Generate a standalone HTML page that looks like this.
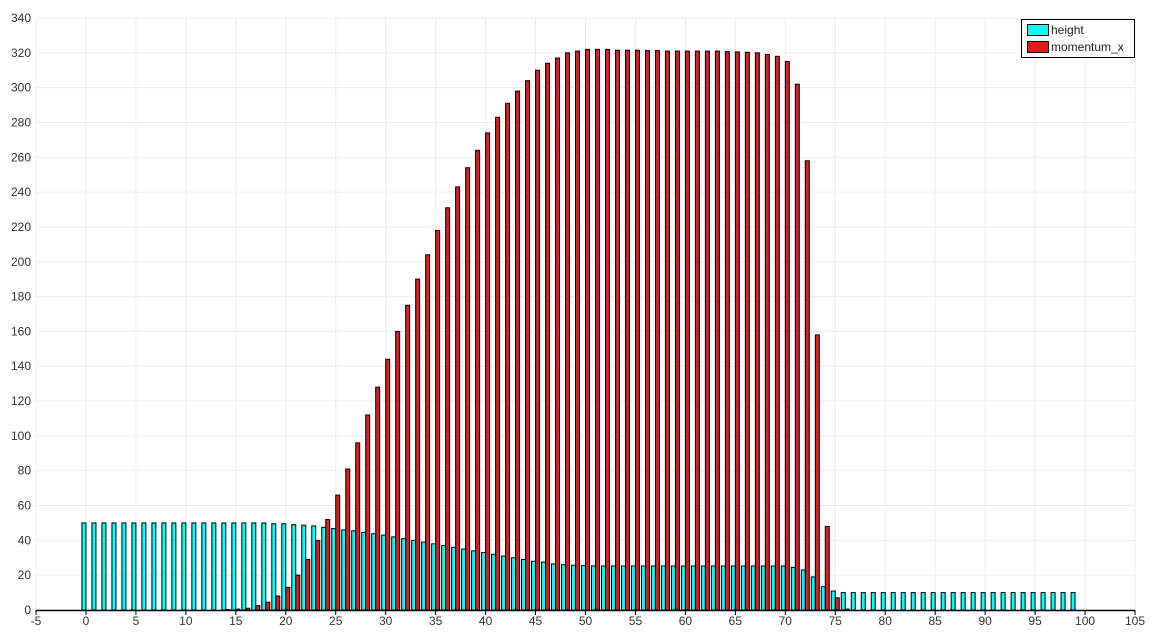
<!DOCTYPE html>
<html><head><meta charset="utf-8"><style>
body{margin:0;background:#fff;}
svg{display:block;font-family:"Liberation Sans",sans-serif;}
</style></head><body>
<svg id="chart" width="1155" height="637">
<g id="grid"></g>
<g id="bars"></g>
<g id="axes"></g>
<g>
<rect x="1021.5" y="19.5" width="113" height="38" fill="#fff" stroke="#000"/>
<rect x="1027.5" y="24.5" width="21" height="11" fill="#00ffff" stroke="#000"/>
<text x="1051" y="34" font-size="12" fill="#222">height</text>
<rect x="1027.5" y="41.5" width="21" height="11" fill="#e41a1c" stroke="#000"/>
<text x="1051" y="51" font-size="12" fill="#222">momentum_x</text>
</g>
</svg>
<script>
const heightVals=[50,50,50,50,50,50,50,50,50,50,50,50,50,50,50,50,50,50,50,49.5,49.5,49,48.7,48.3,47.5,46.8,46,45.5,44.5,43.8,43,42,41,40,39,38,37,36,35,34,33,32,31,30,29,28,27.5,26.5,26,25.7,25.5,25.3,25.3,25.3,25.3,25.3,25.3,25.3,25.3,25.3,25.3,25.3,25.3,25.3,25.3,25.3,25.3,25.3,25.3,25.3,25.3,24.5,23,19,13.4,10.9,10,10,10,10,10,10,10,10,10,10,10,10,10,10,10,10,10,10,10,10,10,10,10,10];
const momentumVals=[0,0,0,0,0,0,0,0,0,0,0,0,0,0,0.3,0.5,1,2.5,4.5,8,13,20,29,40,52,66,81,96,112,128,144,160,175,190,204,218,231,243,254,264,274,283,291,298,304,310,314,317,320,321,322,322,322,321.5,321.5,321.5,321.3,321.3,321,321,321,321,321,321,320.7,320.5,320.3,320,319,318,315,302,258,158,48,7,0.5,0,0,0,0,0,0,0,0,0,0,0,0,0,0,0,0,0,0,0,0,0,0,0,0];
const xTicks=[-5,0,5,10,15,20,25,30,35,40,45,50,55,60,65,70,75,80,85,90,95,100,105];
const yTicks=[0,20,40,60,80,100,120,140,160,180,200,220,240,260,280,300,320,340];
const NS="http://www.w3.org/2000/svg";
const X=v=>36+(v+5)*(1099/110);
const Y=v=>610-v*(592/340);
function mk(tag,attrs,parent){const e=document.createElementNS(NS,tag);for(const k in attrs)e.setAttribute(k,attrs[k]);parent.appendChild(e);return e;}
const grid=document.getElementById('grid'),bars=document.getElementById('bars'),axes=document.getElementById('axes');
xTicks.forEach(t=>{
  const l=mk('line',{x1:X(t),x2:X(t),y1:18,y2:610,stroke:'#ececec'},grid);
  
  
  const tk=mk('line',{x1:X(t),x2:X(t),y1:610,y2:615,stroke:'#000'},axes);
  
  
  const tx=mk('text',{x:X(t),y:625,'font-size':12,'text-anchor':'middle',fill:'#333'},axes);
  tx.textContent=t;
  
  
});
yTicks.forEach(t=>{
  const l=mk('line',{x1:36,x2:1135,y1:Y(t),y2:Y(t),stroke:'#ececec'},grid);
  
  
  const tx=mk('text',{x:31,y:Y(t)+4,'font-size':12,'text-anchor':'end',fill:'#333'},axes);
  tx.textContent=t;
  
  
});
const w=0.4*(1099/110);
heightVals.forEach((v,i)=>{
  if(v<=0)return;
  const r=mk('rect',{x:X(i)-w,y:Y(v),width:w,height:Y(0)-Y(v),fill:'#00ffff',stroke:'#000','stroke-width':1},bars);
  
  
});
momentumVals.forEach((v,i)=>{
  if(v<=0)return;
  const r=mk('rect',{x:X(i),y:Y(v),width:w,height:Y(0)-Y(v),fill:'#e41a1c',stroke:'#000','stroke-width':1},bars);
  
  
});
const ax=mk('line',{x1:36,x2:1135,y1:610.5,y2:610.5,stroke:'#000','stroke-width':1.5},axes);


</script>
</body></html>
